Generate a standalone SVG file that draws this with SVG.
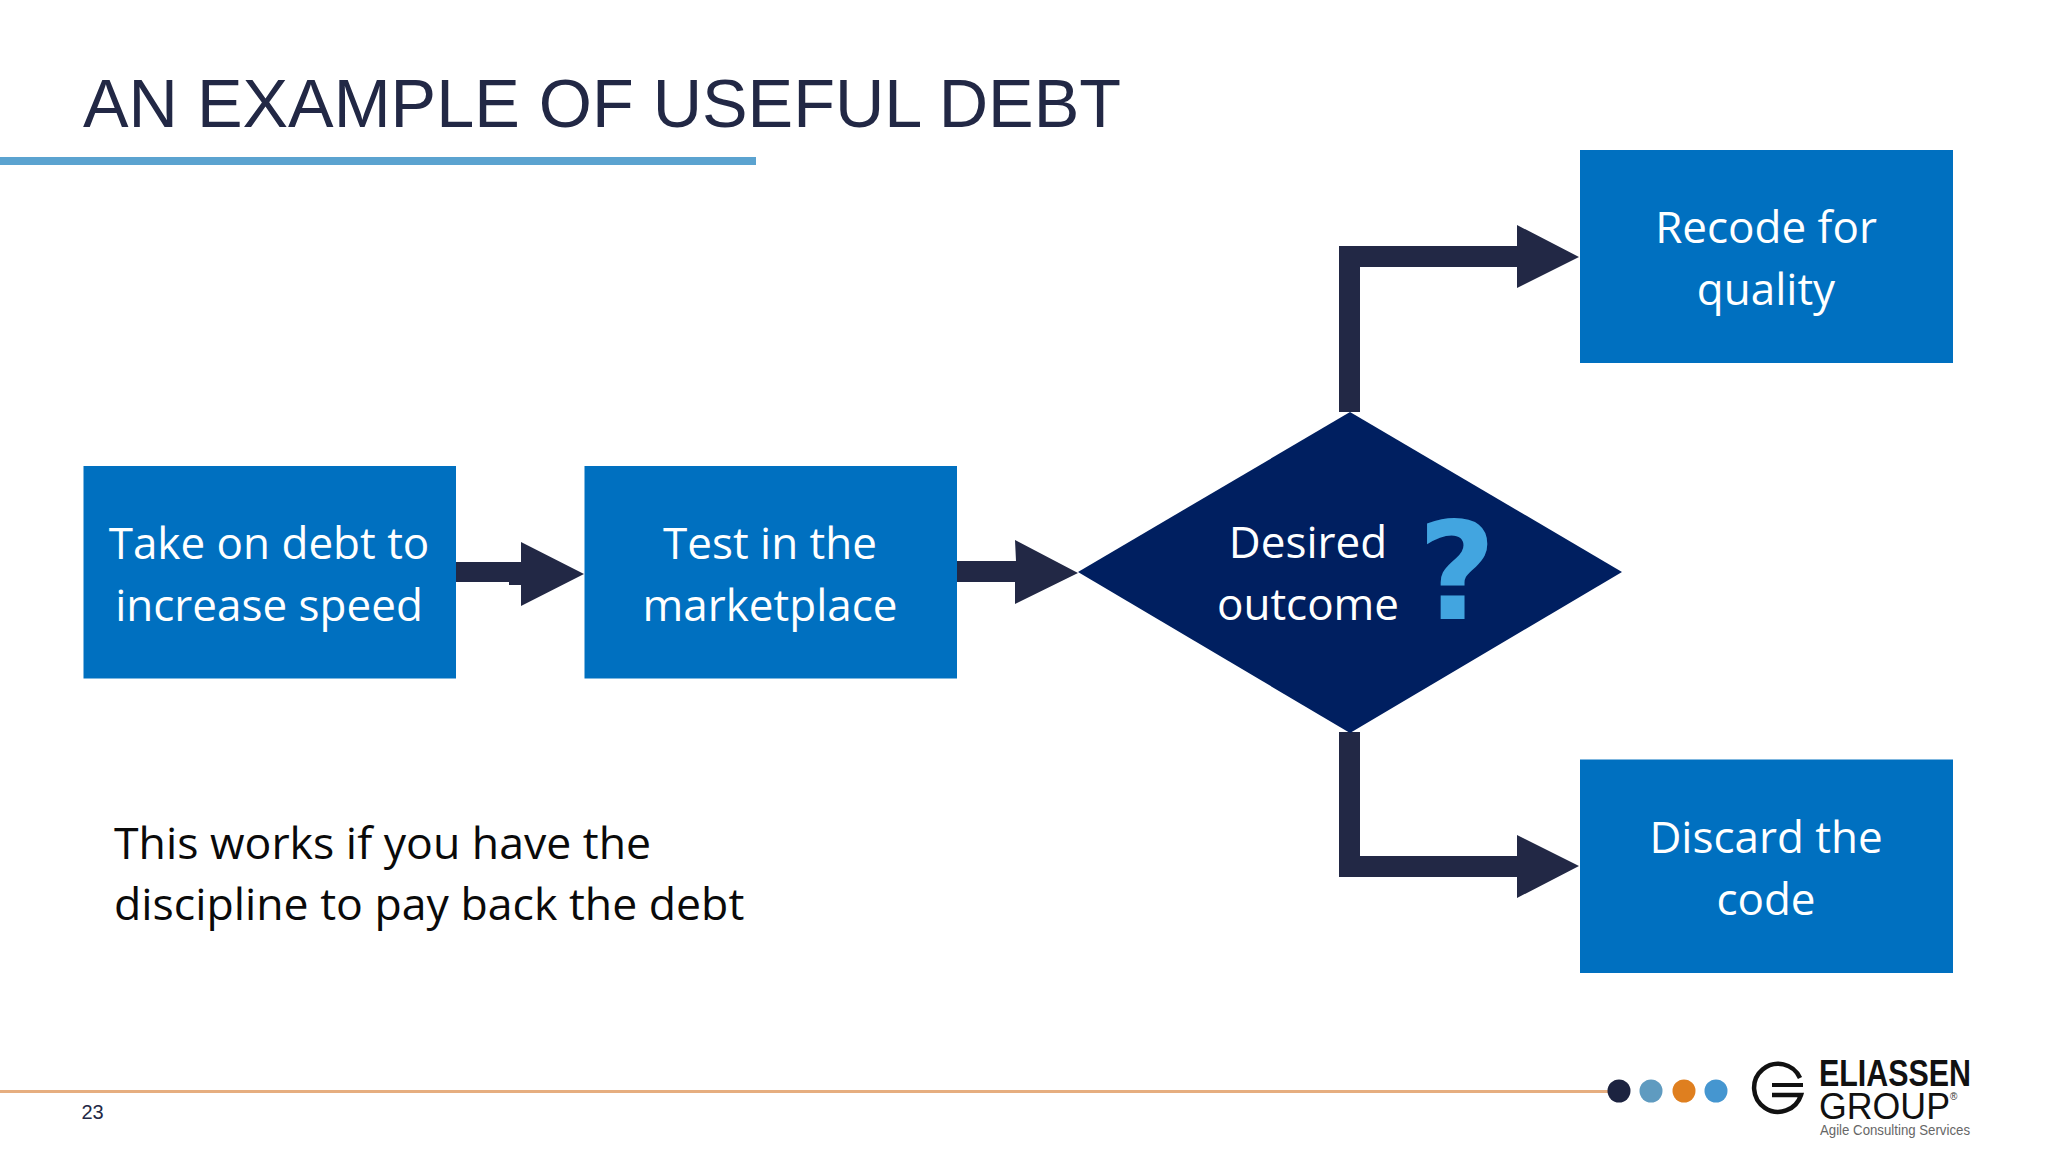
<svg xmlns="http://www.w3.org/2000/svg" width="2048" height="1152" viewBox="0 0 2048 1152">
<style>
.box{fill:#0070C0}
.conn{fill:#222845}
.t{font-family:"Open Sans","Noto Sans",sans-serif;font-size:44px;fill:#fff;text-anchor:middle}
.b{font-family:"Open Sans","Noto Sans",sans-serif;font-size:44.6px;fill:#0a0a0a}
</style>
<rect width="2048" height="1152" fill="#fff"/>
<g id="header">
<text x="83" y="127" font-family="Liberation Sans, sans-serif" font-size="68" fill="#222845" textLength="1038" lengthAdjust="spacingAndGlyphs">AN EXAMPLE OF USEFUL DEBT</text>
<rect x="0" y="157" width="756" height="8" fill="#5BA3D0"/>
</g>
<g id="connectors">
<polygon class="conn" points="456,562 521,562 521,542 584,574 521,606 521,585 509,585 509,582 456,582"/>
<polygon class="conn" points="957,561 1016,561 1015,540 1078,573 1015,604 1015,582 957,582"/>
<polygon class="conn" points="1339,412 1339,246 1517,246 1517,225 1579,257 1517,288 1517,267 1360,267 1360,412"/>
<polygon class="conn" points="1339,732 1339,877 1517,877 1517,898 1579,866 1517,835 1517,856 1360,856 1360,732"/>
</g>
<g id="node-take"><rect class="box" x="83.5" y="466" width="372.5" height="212.5"/><text class="t" x="269" y="559">Take on debt to</text><text class="t" x="269" y="621">increase speed</text></g>
<g id="node-test"><rect class="box" x="584.5" y="466" width="372.5" height="212.5"/><text class="t" x="770" y="559">Test in the</text><text class="t" x="770" y="621">marketplace</text></g>
<g id="node-desired"><polygon points="1078,572 1350,412 1622,572 1350,733" fill="#001F60"/><text class="t" x="1308" y="558">Desired</text><text class="t" x="1308" y="620">outcome</text><text x="1457" y="619" font-family="DejaVu Sans, sans-serif" font-weight="700" font-size="135" fill="#42A5E0" text-anchor="middle">?</text></g>
<g id="node-recode"><rect class="box" x="1580" y="150" width="373" height="213"/><text class="t" x="1766" y="243">Recode for</text><text class="t" x="1766" y="305">quality</text></g>
<g id="node-discard"><rect class="box" x="1580" y="759.5" width="373" height="213.5"/><text class="t" x="1766" y="853">Discard the</text><text class="t" x="1766" y="915">code</text></g>
<g id="note"><text class="b" x="114" y="859">This works if you have the</text><text class="b" x="114" y="920">discipline to pay back the debt</text></g>
<g id="footer">
<rect x="0" y="1090" width="1610" height="3" fill="#E6AE80"/>
<text x="81.5" y="1119" font-family="Liberation Sans, sans-serif" font-size="20" fill="#222845">23</text>
<circle cx="1619" cy="1091" r="11.5" fill="#1C2340"/><circle cx="1651" cy="1091" r="11.5" fill="#5F9BC0"/><circle cx="1684" cy="1091" r="11.5" fill="#DF7F1F"/><circle cx="1716" cy="1091" r="11.5" fill="#4596D0"/>
</g>
<g id="logo">
<path d="M1800,1078 A24,24 0 1 0 1801,1095 H1772" fill="none" stroke="#111" stroke-width="4.5"/>
<rect x="1772" y="1083" width="31" height="4" fill="#111"/>
<text x="1819" y="1086" font-family="Liberation Sans, sans-serif" font-weight="700" font-size="37" fill="#111" textLength="152" lengthAdjust="spacingAndGlyphs">ELIASSEN</text>
<text x="1819" y="1119" font-family="Liberation Sans, sans-serif" font-size="36" fill="#111" textLength="131" lengthAdjust="spacingAndGlyphs">GROUP</text>
<text x="1950" y="1100" font-family="Liberation Sans, sans-serif" font-size="10" fill="#333">®</text>
<text x="1820" y="1135" font-family="Liberation Sans, sans-serif" font-size="15" fill="#666" textLength="150" lengthAdjust="spacingAndGlyphs">Agile Consulting Services</text>
</g>
</svg>
